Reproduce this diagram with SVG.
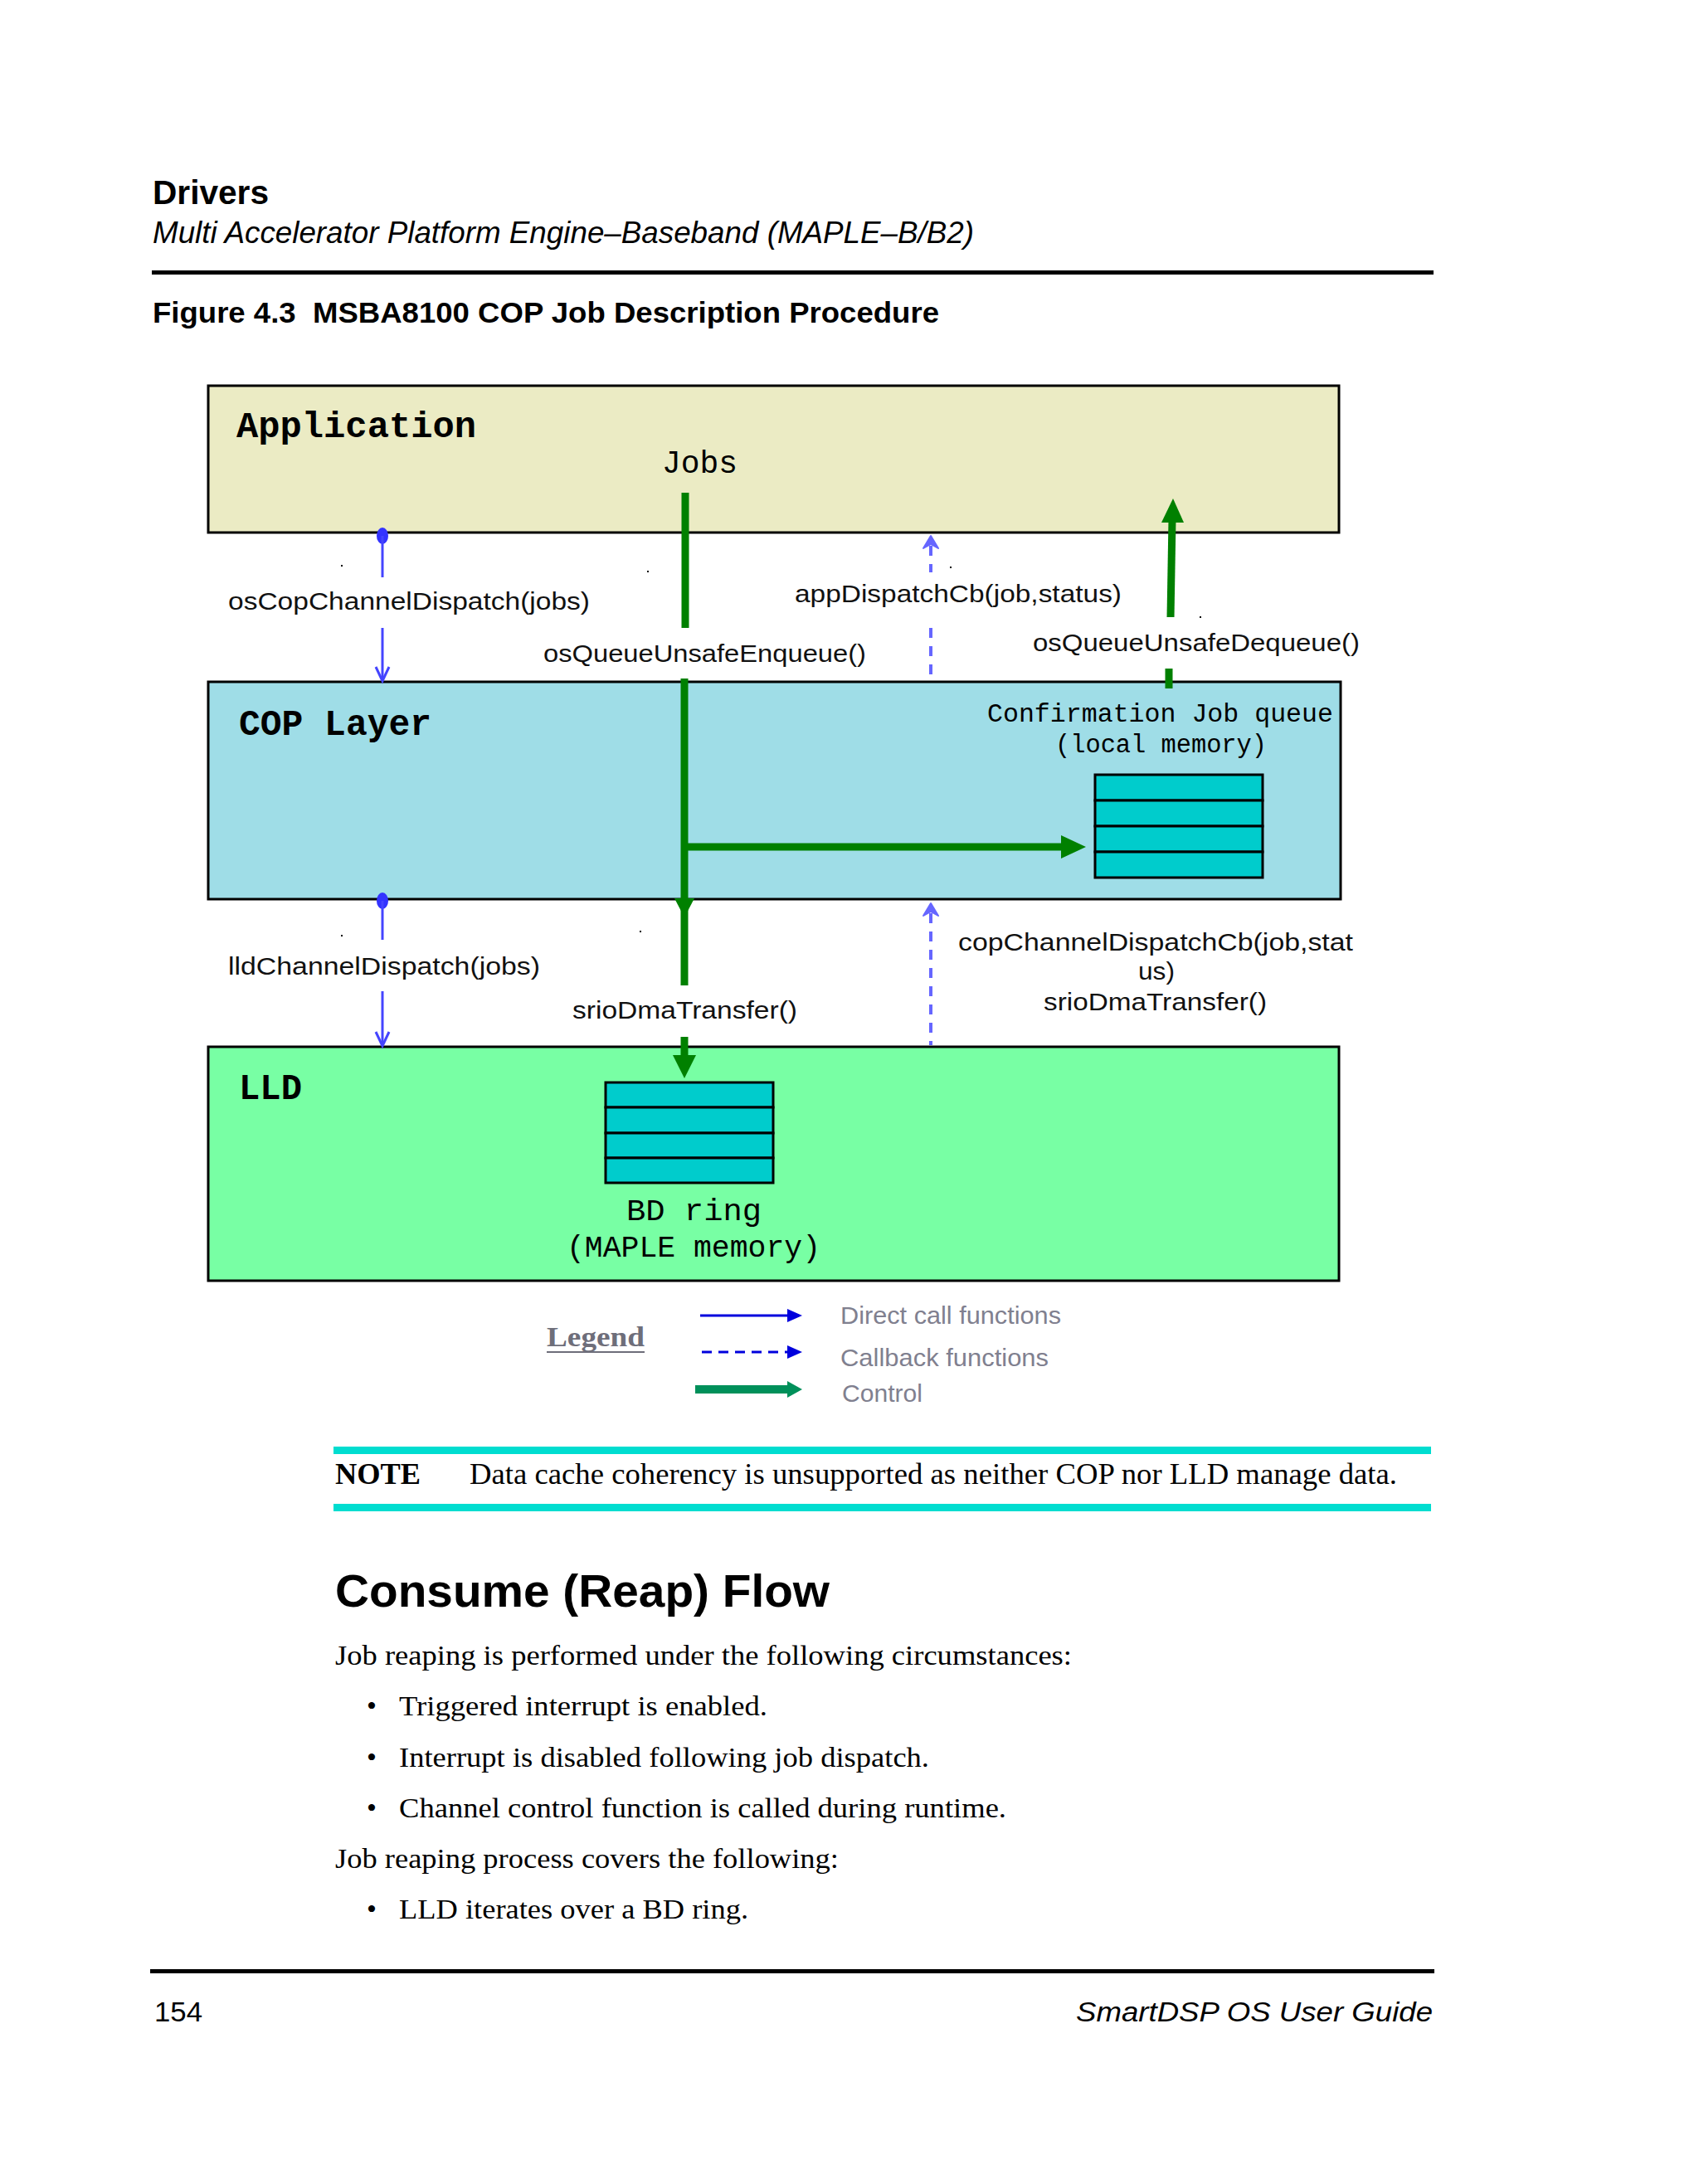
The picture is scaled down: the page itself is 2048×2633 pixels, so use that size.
<svg xmlns="http://www.w3.org/2000/svg" width="2048" height="2633" viewBox="0 0 2048 2633">
<style>
.hd{font-family:"Liberation Sans",Arial,sans-serif;fill:#000}
.mono{font-family:"Liberation Mono","Courier New",monospace;fill:#000}
.monob{font-family:"Liberation Mono","Courier New",monospace;font-weight:bold;fill:#000}
.lbl{font-family:"Liberation Sans",Arial,sans-serif;font-size:30px;fill:#111}
.body{font-family:"Liberation Serif","Times New Roman",serif;font-size:34px;fill:#000}
.leg{font-family:"Liberation Sans",Arial,sans-serif;font-size:29px;fill:#80808f}
.box{stroke:#000;stroke-width:3}
.cell{fill:#00CCCC;stroke:#000;stroke-width:3}
.ctl{stroke:#008000;stroke-width:9;fill:none}
.dir{stroke:#4444FF;stroke-width:3;fill:none}
.cb{stroke:#6666FF;stroke-width:4;fill:none;stroke-dasharray:12 10}
.gh{fill:#008000}
.speck{fill:#000}
</style>
<rect width="2048" height="2633" fill="#fff"/>

<!-- page header -->
<text class="hd" x="184" y="246" font-size="40" font-weight="bold" textLength="140" lengthAdjust="spacingAndGlyphs">Drivers</text>
<text class="hd" x="184" y="293" font-size="36" font-style="italic" textLength="990" lengthAdjust="spacingAndGlyphs">Multi Accelerator Platform Engine–Baseband (MAPLE–B/B2)</text>
<rect x="183" y="326" width="1545" height="5" fill="#000"/>
<text class="hd" x="184" y="389" font-size="35" font-weight="bold" textLength="948" lengthAdjust="spacingAndGlyphs">Figure 4.3&#160; MSBA8100 COP Job Description Procedure</text>

<!-- nodes -->
<g id="application">
<rect class="box" x="251" y="465" width="1363" height="177" fill="#EBEBC4"/>
<text class="monob" x="285" y="527" font-size="44" textLength="289" lengthAdjust="spacingAndGlyphs">Application</text>
<text class="mono" x="798" y="570" font-size="38" textLength="91" lengthAdjust="spacingAndGlyphs">Jobs</text>
</g>

<g id="cop-layer">
<rect class="box" x="251" y="822" width="1365" height="262" fill="#9FDDE7"/>
<text class="monob" x="288" y="886" font-size="44" textLength="232" lengthAdjust="spacingAndGlyphs">COP Layer</text>
<text class="mono" x="1190" y="870" font-size="31" textLength="417" lengthAdjust="spacingAndGlyphs">Confirmation Job queue</text>
<text class="mono" x="1272" y="907" font-size="31" textLength="255" lengthAdjust="spacingAndGlyphs">(local memory)</text>
</g>

<g id="confirmation-queue">
<rect class="cell" x="1320" y="934" width="202" height="31"/>
<rect class="cell" x="1320" y="965" width="202" height="31"/>
<rect class="cell" x="1320" y="996" width="202" height="31"/>
<rect class="cell" x="1320" y="1027" width="202" height="31"/>
</g>

<g id="lld">
<rect class="box" x="251" y="1262" width="1363" height="282" fill="#78FFA4"/>
<text class="monob" x="288" y="1325" font-size="44" textLength="76" lengthAdjust="spacingAndGlyphs">LLD</text>
<text class="mono" x="755" y="1471" font-size="37" textLength="163" lengthAdjust="spacingAndGlyphs">BD ring</text>
<text class="mono" x="683" y="1515" font-size="37" textLength="306" lengthAdjust="spacingAndGlyphs">(MAPLE memory)</text>
</g>

<g id="bd-ring">
<rect class="cell" x="730" y="1305" width="202" height="30"/>
<rect class="cell" x="730" y="1335" width="202" height="31"/>
<rect class="cell" x="730" y="1366" width="202" height="30"/>
<rect class="cell" x="730" y="1396" width="202" height="30"/>
</g>

<!-- connectors -->
<g id="connectors">
<!-- direct call: App -> COP -->
<ellipse cx="461" cy="646" rx="7" ry="10" fill="#3333FF"/>
<line class="dir" x1="461" y1="646" x2="461" y2="696"/>
<line class="dir" x1="461" y1="757" x2="461" y2="820"/>
<polyline class="dir" points="453,804 461,821 469,804"/>
<text class="lbl" x="275" y="735" textLength="436" lengthAdjust="spacingAndGlyphs">osCopChannelDispatch(jobs)</text>

<!-- control: Jobs -> enqueue -->
<line class="ctl" x1="826" y1="594" x2="826" y2="757"/>
<line class="ctl" x1="825" y1="818" x2="825" y2="1188"/>
<polygon class="gh" points="813,1083 837,1083 825,1106"/>
<line class="ctl" x1="825" y1="1021" x2="1282" y2="1021"/>
<polygon class="gh" points="1279,1007 1309,1021 1279,1035"/>
<text class="lbl" x="655" y="798" textLength="389" lengthAdjust="spacingAndGlyphs">osQueueUnsafeEnqueue()</text>
<line class="ctl" x1="825" y1="1250" x2="825" y2="1276"/>
<polygon class="gh" points="811,1272 839,1272 825,1300"/>
<text class="lbl" x="690" y="1228" textLength="271" lengthAdjust="spacingAndGlyphs">srioDmaTransfer()</text>

<!-- callback: COP -> App -->
<line class="cb" x1="1122" y1="658" x2="1122" y2="690"/>
<line class="cb" x1="1122" y1="757" x2="1122" y2="815"/>
<polygon points="1122,646 1113,661 1122,656 1131,661" fill="#6666FF" stroke="#6666FF" stroke-width="2" stroke-linejoin="round"/>
<text class="lbl" x="958" y="726" textLength="394" lengthAdjust="spacingAndGlyphs">appDispatchCb(job,status)</text>

<!-- control: dequeue up -->
<line class="ctl" x1="1411" y1="744" x2="1413" y2="626"/>
<polygon class="gh" points="1400,630 1427,630 1414,601"/>
<line class="ctl" x1="1409" y1="806" x2="1409" y2="830"/>
<text class="lbl" x="1245" y="785" textLength="394" lengthAdjust="spacingAndGlyphs">osQueueUnsafeDequeue()</text>

<!-- direct call: COP -> LLD -->
<ellipse cx="461" cy="1086" rx="7" ry="10" fill="#3333FF"/>
<line class="dir" x1="461" y1="1086" x2="461" y2="1133"/>
<line class="dir" x1="461" y1="1195" x2="461" y2="1261"/>
<polyline class="dir" points="453,1244 461,1261 469,1244"/>
<text class="lbl" x="275" y="1175" textLength="376" lengthAdjust="spacingAndGlyphs">lldChannelDispatch(jobs)</text>

<!-- callback: LLD -> COP -->
<line class="cb" x1="1122" y1="1101" x2="1122" y2="1260"/>
<polygon points="1122,1089 1113,1104 1122,1099 1131,1104" fill="#6666FF" stroke="#6666FF" stroke-width="2" stroke-linejoin="round"/>
<text class="lbl" x="1155" y="1146" textLength="476" lengthAdjust="spacingAndGlyphs">copChannelDispatchCb(job,stat</text>
<text class="lbl" x="1372" y="1181" textLength="44" lengthAdjust="spacingAndGlyphs">us)</text>
<text class="lbl" x="1258" y="1218" textLength="269" lengthAdjust="spacingAndGlyphs">srioDmaTransfer()</text>

<!-- specks -->
<rect class="speck" x="411" y="681" width="2" height="2"/>
<rect class="speck" x="780" y="688" width="2" height="2"/>
<rect class="speck" x="1145" y="683" width="2" height="2"/>
<rect class="speck" x="1446" y="743" width="2" height="2"/>
<rect class="speck" x="411" y="1127" width="2" height="2"/>
<rect class="speck" x="771" y="1122" width="2" height="2"/>
</g>

<!-- legend -->
<g id="legend">
<text x="659" y="1623" font-family="Liberation Serif,'Times New Roman',serif" font-size="33" font-weight="bold" fill="#6E6E7A" textLength="118" lengthAdjust="spacingAndGlyphs">Legend</text>
<line x1="659" y1="1630" x2="777" y2="1630" stroke="#6E6E7A" stroke-width="2"/>
<line x1="844" y1="1586" x2="952" y2="1586" stroke="#0000DD" stroke-width="3"/>
<polygon points="949,1578 967,1586 949,1594" fill="#0000DD"/>
<line x1="846" y1="1630" x2="952" y2="1630" stroke="#0000DD" stroke-width="3" stroke-dasharray="12 8"/>
<polygon points="949,1622 967,1630 949,1638" fill="#0000DD"/>
<line x1="838" y1="1675" x2="952" y2="1675" stroke="#00905A" stroke-width="10"/>
<polygon points="949,1665 967,1675 949,1685" fill="#00905A"/>
<text class="leg" x="1013" y="1596" textLength="266" lengthAdjust="spacingAndGlyphs">Direct call functions</text>
<text class="leg" x="1013" y="1647" textLength="251" lengthAdjust="spacingAndGlyphs">Callback functions</text>
<text class="leg" x="1015" y="1690" textLength="97" lengthAdjust="spacingAndGlyphs">Control</text>
</g>

<!-- note -->
<rect x="402" y="1744" width="1323" height="9" fill="#00DDD0"/>
<rect x="402" y="1813" width="1323" height="9" fill="#00DDD0"/>
<text x="404" y="1789" font-family="Liberation Serif,'Times New Roman',serif" font-size="36" font-weight="bold" fill="#000" textLength="103" lengthAdjust="spacingAndGlyphs">NOTE</text>
<text x="566" y="1789" font-family="Liberation Serif,'Times New Roman',serif" font-size="36" fill="#000" textLength="1118" lengthAdjust="spacingAndGlyphs">Data cache coherency is unsupported as neither COP nor LLD manage data.</text>

<!-- body -->
<text class="hd" x="404" y="1937" font-size="56" font-weight="bold" textLength="596" lengthAdjust="spacingAndGlyphs">Consume (Reap) Flow</text>
<text class="body" x="404" y="2007" textLength="888" lengthAdjust="spacingAndGlyphs">Job reaping is performed under the following circumstances:</text>
<text class="body" x="442" y="2068">•</text>
<text class="body" x="481" y="2068" textLength="444" lengthAdjust="spacingAndGlyphs">Triggered interrupt is enabled.</text>
<text class="body" x="442" y="2130">•</text>
<text class="body" x="481" y="2130" textLength="639" lengthAdjust="spacingAndGlyphs">Interrupt is disabled following job dispatch.</text>
<text class="body" x="442" y="2191">•</text>
<text class="body" x="481" y="2191" textLength="732" lengthAdjust="spacingAndGlyphs">Channel control function is called during runtime.</text>
<text class="body" x="404" y="2252" textLength="607" lengthAdjust="spacingAndGlyphs">Job reaping process covers the following:</text>
<text class="body" x="442" y="2313">•</text>
<text class="body" x="481" y="2313" textLength="421" lengthAdjust="spacingAndGlyphs">LLD iterates over a BD ring.</text>

<!-- footer -->
<rect x="181" y="2374" width="1548" height="5" fill="#000"/>
<text class="hd" x="186" y="2437" font-size="34" textLength="58" lengthAdjust="spacingAndGlyphs">154</text>
<text class="hd" x="1297" y="2437" font-size="34" font-style="italic" textLength="430" lengthAdjust="spacingAndGlyphs">SmartDSP OS User Guide</text>
</svg>
